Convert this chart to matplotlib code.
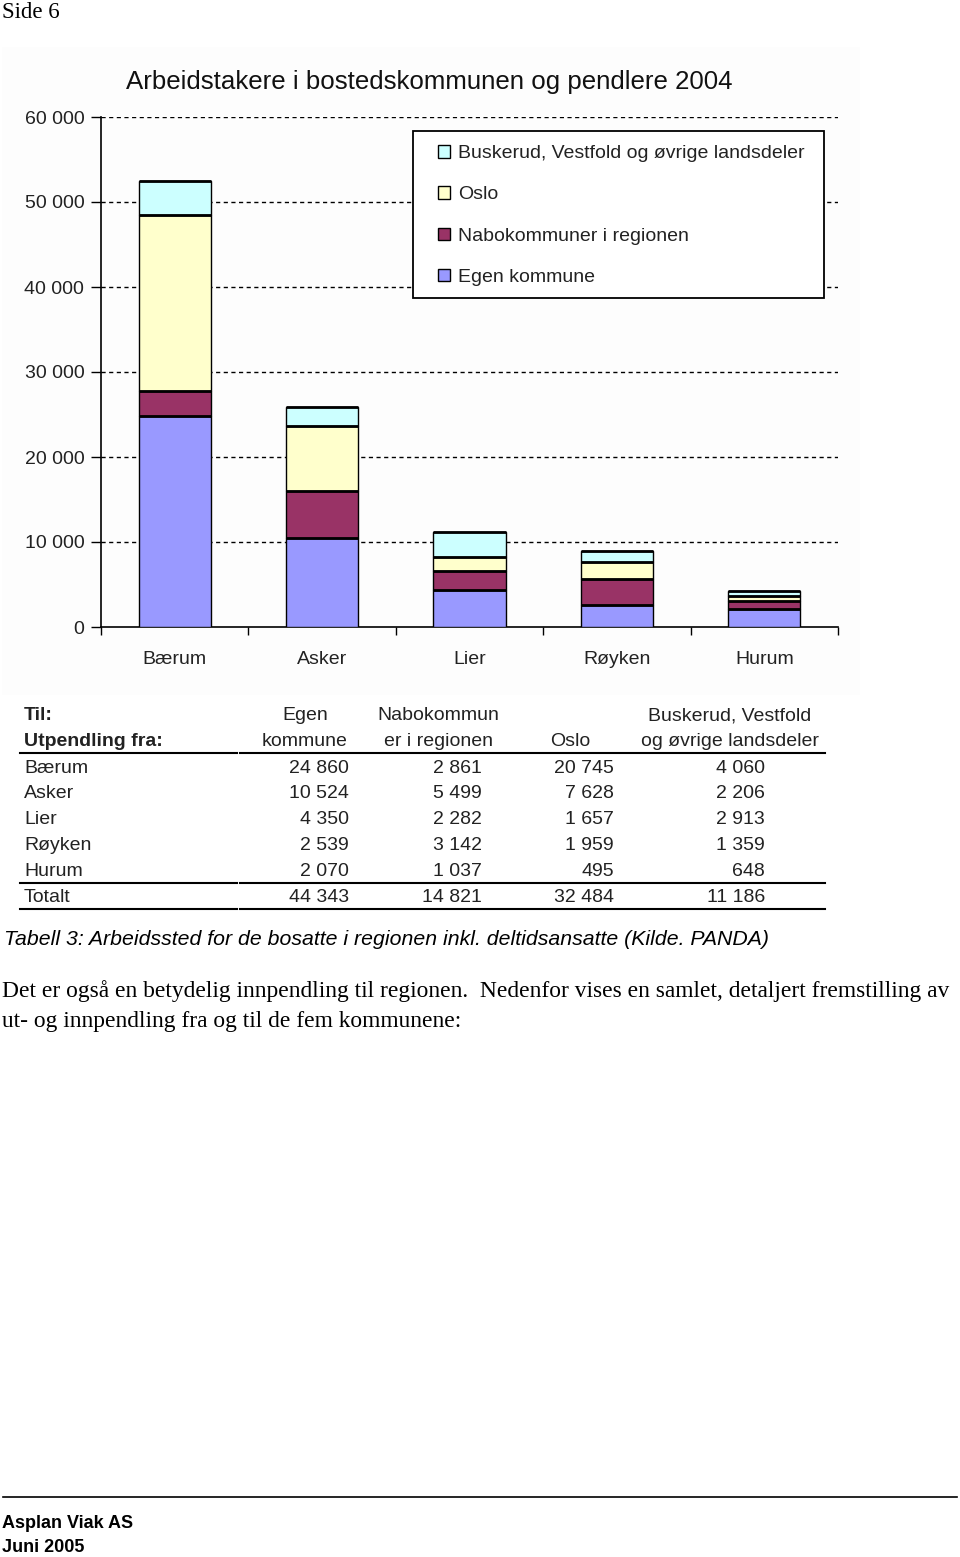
import matplotlib
matplotlib.use("Agg")
import matplotlib.pyplot as plt
from matplotlib.patches import Patch, Rectangle
from matplotlib.lines import Line2D
import numpy as np

# ---------------- data ----------------
kommuner = ["Bærum", "Asker", "Lier", "Røyken", "Hurum"]
egen = [24860, 10524, 4350, 2539, 2070]
nabo = [2861, 5499, 2282, 3142, 1037]
oslo = [20745, 7628, 1657, 1959, 495]
buskerud = [4060, 2206, 2913, 1359, 648]
totalt = [44343, 14821, 32484, 11186]

series_names = ["Egen kommune", "Nabokommuner i regionen", "Oslo",
                "Buskerud, Vestfold og øvrige landsdeler"]
series_colors = ["#9999FF", "#993366", "#FFFFCC", "#CCFFFF"]
yticks = [0, 10000, 20000, 30000, 40000, 50000, 60000]

title = "Arbeidstakere i bostedskommunen og pendlere 2004"
col_headers = [("Egen", "kommune"), ("Nabokommun", "er i regionen"),
               ("", "Oslo"), ("Buskerud, Vestfold", "og øvrige landsdeler")]
caption = "Tabell 3: Arbeidssted for de bosatte i regionen inkl. deltidsansatte (Kilde. PANDA)"
body1 = "Det er også en betydelig innpendling til regionen.  Nedenfor vises en samlet, detaljert fremstilling av"
body2 = "ut- og innpendling fra og til de fem kommunene:"

W, H = 960, 1557
fig = plt.figure(figsize=(W / 100, H / 100), dpi=100)
fig.patch.set_facecolor("white")

SANS = ["Liberation Sans", "DejaVu Sans"]
SERIF = ["Liberation Serif", "DejaVu Serif"]


def fx(x):
    return x / W


def fy(y):
    return 1 - y / H


def fmt(v):
    return f"{v:,}".replace(",", " ")


# faint chart-image backdrop
fig.patches.append(Rectangle((fx(2), fy(695)), fx(858), (695 - 47) / H,
                             transform=fig.transFigure, facecolor="#fdfdfd",
                             edgecolor="none", zorder=-1, figure=fig))

# ---------------- chart ----------------
ax_left, ax_right, ax_top, ax_bottom = 101, 838, 117, 627
ax = fig.add_axes([fx(ax_left), fy(ax_bottom), fx(ax_right - ax_left),
                   (ax_bottom - ax_top) / H])
ax.set_facecolor("none")
x = np.arange(len(kommuner)) + 0.5
bw = 0.49
bottom = np.zeros(len(kommuner))
for vals, name, col in zip([egen, nabo, oslo, buskerud], series_names, series_colors):
    vals = np.array(vals, dtype=float)
    ax.bar(x, vals, bw, bottom=bottom, color=col, edgecolor="black",
           linewidth=1.0, zorder=3, label=name)
    ax.hlines(bottom + vals, x - bw / 2, x + bw / 2, color="black",
              linewidth=2.0, zorder=4)
    bottom += vals

ax.set_xlim(0, len(kommuner))
ax.set_ylim(0, 60000)
ax.set_yticks(yticks)
ax.set_yticklabels([fmt(v) for v in yticks], fontsize=14, family=SANS,
                   color="#222222")
ax.set_xticks(np.arange(len(kommuner) + 1))
ax.set_xticklabels([""] * (len(kommuner) + 1))
ax.tick_params(axis="x", direction="out", length=6, width=1, color="black")
ax.tick_params(axis="y", direction="out", length=7, width=1, color="black", pad=5)
for xi, name in zip(x, kommuner):
    ax.text(xi, -2800, name, ha="center", va="top", fontsize=14,
            family=SANS, color="#222222")
for v in yticks[1:]:
    ax.axhline(v, color="black", linestyle=(0, (3, 2.5)), linewidth=1.0, zorder=1)
for s in ["top", "right"]:
    ax.spines[s].set_visible(False)
ax.spines["left"].set_linewidth(1.2)
ax.spines["bottom"].set_linewidth(1.2)

fig.text(fx(429), fy(82), title, ha="center", va="center", fontsize=18.6,
         family=SANS, color="#111111")

# legend: frame drawn separately (inside the axes), entries via legend
frame = Rectangle((fx(413), fy(298)), fx(824 - 413), (298 - 131) / H,
                  transform=fig.transFigure, facecolor="white",
                  edgecolor="black", linewidth=1.3, zorder=9, clip_on=False)
ax.add_patch(frame)
handles = [Patch(facecolor=c, edgecolor="black", linewidth=1.0)
           for c in series_colors][::-1]
leg = ax.legend(handles, series_names[::-1], loc="upper left",
                bbox_to_anchor=(fx(438), fy(145)),
                bbox_transform=fig.transFigure,
                prop={"family": SANS, "size": 14}, frameon=False,
                handlelength=0.62, handleheight=0.62, handletextpad=0.4,
                labelspacing=1.24, borderpad=0, borderaxespad=0)
for t in leg.get_texts():
    t.set_color("#222222")
leg.set_zorder(10)

# ---------------- table ----------------
tsize = 14
fig.text(fx(24), fy(715), "Til:", fontsize=tsize, family=SANS, weight="bold",
         va="center", ha="left", color="#222222")
fig.text(fx(24), fy(741), "Utpendling fra:", fontsize=tsize, family=SANS,
         weight="bold", va="center", ha="left", color="#222222")
hdr_centers = [305, 438, 570, 730]
for cx, (h1, h2) in zip(hdr_centers, col_headers):
    if h1:
        fig.text(fx(cx), fy(716), h1, fontsize=tsize, family=SANS,
                 ha="center", va="center", color="#222222")
    fig.text(fx(cx), fy(742), h2, fontsize=tsize, family=SANS,
             ha="center", va="center", color="#222222")

col_right = [349, 482, 614, 765]
row_y0, row_dy = 768, 25.8
for i, name in enumerate(kommuner):
    yy = row_y0 + i * row_dy
    fig.text(fx(24), fy(yy), name, fontsize=tsize, family=SANS, ha="left",
             va="center", color="#222222")
    for cr, vals in zip(col_right, [egen, nabo, oslo, buskerud]):
        fig.text(fx(cr), fy(yy), fmt(vals[i]), fontsize=tsize, family=SANS,
                 ha="right", va="center", color="#222222")
yy = row_y0 + len(kommuner) * row_dy
fig.text(fx(24), fy(yy), "Totalt", fontsize=tsize, family=SANS, ha="left",
         va="center", color="#222222")
for cr, v in zip(col_right, totalt):
    fig.text(fx(cr), fy(yy), fmt(v), fontsize=tsize, family=SANS, ha="right",
             va="center", color="#222222")

for ly in [753, 883, 909]:
    fig.add_artist(Line2D([fx(20), fx(237)], [fy(ly), fy(ly)], color="black",
                          linewidth=1.5))
    fig.add_artist(Line2D([fx(240), fx(825)], [fy(ly), fy(ly)], color="black",
                          linewidth=1.5))

# ---------------- page text ----------------
fig.text(fx(2), fy(13), "Side 6", fontsize=16.5, family=SERIF, ha="left",
         va="center")
fig.text(fx(4), fy(939), caption, fontsize=15.3, family=SANS, style="italic",
         ha="left", va="center")
fig.text(fx(2), fy(991), body1, fontsize=16.9, family=SERIF, ha="left",
         va="center")
fig.text(fx(2), fy(1021), body2, fontsize=16.9, family=SERIF, ha="left",
         va="center")
fig.add_artist(Line2D([fx(3), fx(957)], [fy(1497), fy(1497)], color="black",
                      linewidth=1.2))
fig.text(fx(2), fy(1524), "Asplan Viak AS", fontsize=13, family=SANS,
         weight="bold", ha="left", va="center")
fig.text(fx(2), fy(1548), "Juni 2005", fontsize=13, family=SANS,
         weight="bold", ha="left", va="center")

fig.savefig("out.png", dpi=100, facecolor="white")
